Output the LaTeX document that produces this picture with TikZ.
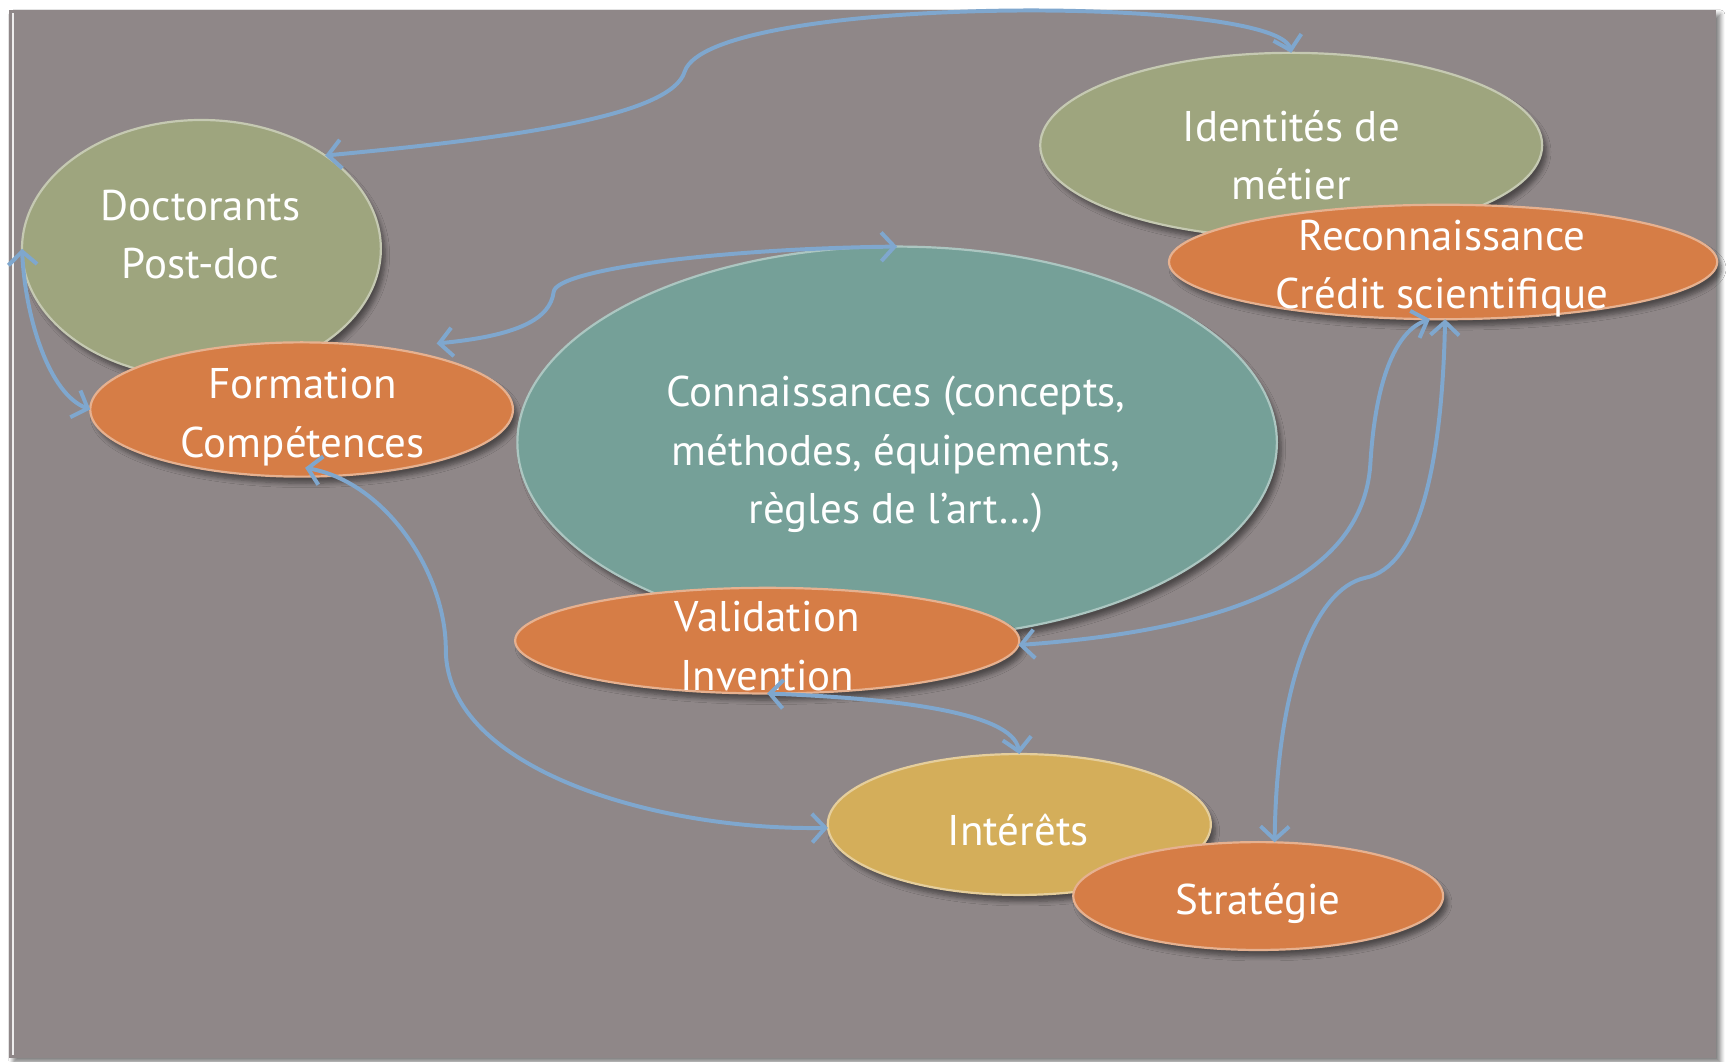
\documentclass[tikz,border=0pt]{standalone}
\usepackage{fontspec}
\setmainfont{PT Sans}
\usetikzlibrary{shapes.geometric,arrows.meta,shadows.blur}
\definecolor{bgcol}{RGB}{143,135,136}
\definecolor{olivec}{RGB}{158,165,126}
\definecolor{orangec}{RGB}{214,125,70}
\definecolor{tealc}{RGB}{117,160,152}
\definecolor{goldc}{RGB}{212,174,90}
\definecolor{arrowc}{RGB}{127,167,206}
\begin{document}
\begin{tikzpicture}[x=0.5pt,y=-0.5pt,
  bub/.style={ellipse, inner sep=0pt, outer sep=0pt, line width=1pt,
    blur shadow={shadow xshift=2pt, shadow yshift=-3pt, shadow opacity=45, shadow blur steps=6}},
  olivebub/.style={bub, fill=olivec, draw=olivec!60!white},
  orangebub/.style={bub, fill=orangec, draw=orangec!60!white},
  tealbub/.style={bub, fill=tealc, draw=tealc!60!white},
  goldbub/.style={bub, fill=goldc, draw=goldc!60!white},
  lab/.style={text=white, align=center, inner sep=0pt,
    font=\fontsize{19.5}{26.5}\selectfont},
  link/.style={draw=arrowc, line width=1.8pt,
    {Straight Barb[length=6pt,width=13pt]}-{Straight Barb[length=6pt,width=13pt]}}
]
\useasboundingbox (0,0) rectangle (1568,964);
\fill[white] (0,0) rectangle (1568,964);
\fill[bgcol, blur shadow={shadow xshift=2pt, shadow yshift=-2pt, shadow opacity=50, shadow blur steps=5}] (8,9) rectangle (1559,961);
\draw[white!85!bgcol, line width=1pt] (12,12) -- (12,958);

% nodes
\node[olivebub, minimum width=163pt, minimum height=117pt] (doct) at (183,226) {};
\node[lab] (doctt) at (182,213) {Doctorants\\Post-doc};
\node[orangebub, minimum width=192pt, minimum height=61pt] (form) at (274,372) {};
\node[lab] (formt) at (275,379) {Formation\\Compétences};
\node[olivebub, minimum width=228pt, minimum height=84pt] (ident) at (1173,132) {};
\node[lab] (identt) at (1173,141) {Identités de\\métier};
\node[orangebub, minimum width=249pt, minimum height=52pt] (recon) at (1311,238) {};
\node[lab] (recont) at (1310,244) {Reconnaissance\\Crédit scientifique};
\node[tealbub, minimum width=345pt, minimum height=178pt] (conn) at (815,402) {};
\node[lab] (connt) at (814,413) {Connaissances (concepts,\\méthodes, équipements,\\règles de l’art…)};
\node[orangebub, minimum width=229pt, minimum height=48pt] (valid) at (697,582) {};
\node[lab] (validt) at (697,587) {Validation\\Invention};
\node[goldbub, minimum width=174pt, minimum height=64pt] (inter) at (926,749) {};
\node[lab] (intert) at (925,754) {Intérêts};
\node[orangebub, minimum width=168pt, minimum height=49pt] (strat) at (1143,814) {};
\node[lab] (stratt) at (1143,821) {Stratégie};

% connectors
\draw[link] (doct.37) .. controls (470,125) and (610,105) .. (622,65)
  .. controls (645,-5) and (1160,-5) .. (ident.90);
\draw[link] ([shift={(4,-12)}]form.22) .. controls (470,305) and (500,290) .. (503,265)
  .. controls (506,245) and (650,226) .. (conn.90);
\draw[link] (doct.180) .. controls (23,290) and (45,358) .. (form.180);
\draw[link] ([shift={(0,-8)}]form.-87) .. controls (350,438) and (405,520) .. (405,590)
  .. controls (405,700) and (600,755) .. (inter.181);
\draw[link] (valid.-90) .. controls (800,634) and (920,645) .. (inter.90);
\draw[link] (valid.-1) .. controls (1150,570) and (1240,510) .. (1245,420)
  .. controls (1250,340) and (1270,300) .. (recon.-103);
\draw[link] (recon.-88) .. controls (1310,420) and (1290,515) .. (1240,525)
  .. controls (1195,535) and (1160,620) .. (strat.73);
\end{tikzpicture}
\end{document}
